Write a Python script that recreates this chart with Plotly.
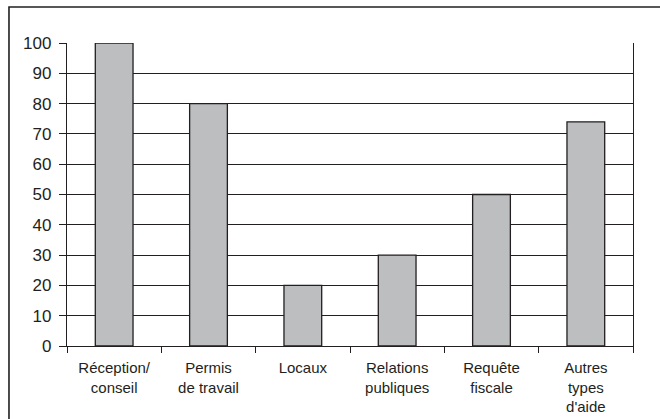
import plotly.graph_objects as go

categories = ["Réception/<br>conseil", "Permis<br>de travail", "Locaux",
              "Relations<br>publiques", "Requête<br>fiscale", "Autres<br>types<br>d'aide"]
values = [100, 80, 20, 30, 50, 74]
y_ticks = [0, 10, 20, 30, 40, 50, 60, 70, 80, 90, 100]

ink = "#231f20"

fig = go.Figure(go.Bar(
    x=categories, y=values,
    marker=dict(color="#bcbec0", line=dict(color=ink, width=1.3)),
))

fig.update_layout(
    width=660, height=419,
    margin=dict(l=67, r=27, t=43, b=73),
    paper_bgcolor="white", plot_bgcolor="white",
    bargap=0.6,
    showlegend=False,
    font=dict(family="Liberation Sans, Arial", size=15, color=ink),
)

fig.update_xaxes(
    showline=True, linecolor=ink, linewidth=1.3,
    ticks="outside", tickson="boundaries", ticklen=6, tickcolor=ink,
    showgrid=False, tickfont=dict(size=15), ticklabelstandoff=8,
    automargin=False,
)
fig.update_yaxes(
    range=[0, 100], tickvals=y_ticks,
    showline=True, mirror=True, linecolor=ink, linewidth=1.3,
    ticks="outside", ticklen=7, tickcolor=ink,
    showgrid=True, gridcolor=ink, gridwidth=1.2,
    zeroline=False, tickfont=dict(size=17), ticklabelstandoff=4,
    automargin=False,
)

# outer frame around the whole chart (bottom and right edges fall outside the picture)
fig.add_shape(type="rect", xref="paper", yref="paper",
              x0=-0.1025, x1=1.08, y0=-0.3, y1=1.1188,
              line=dict(color=ink, width=1.6), layer="below")

fig.write_html("out.html", config={"displayModeBar": False},
               post_script="document.body.style.margin='0';")
